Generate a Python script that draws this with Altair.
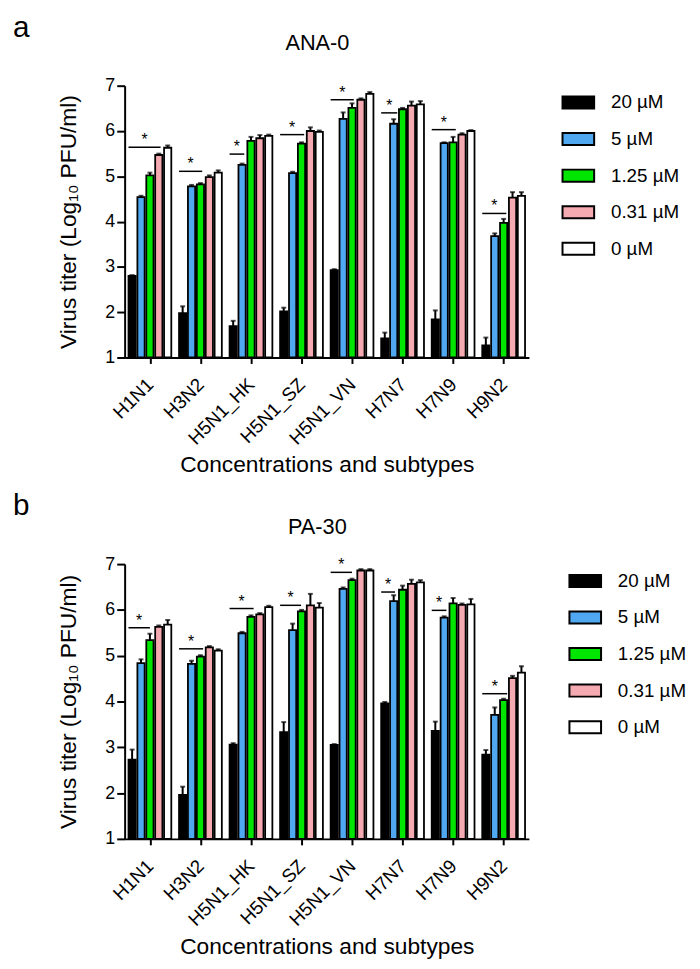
import altair as alt
import pandas as pd

subtypes = ["H1N1", "H3N2", "H5N1_HK", "H5N1_SZ", "H5N1_VN", "H7N7", "H7N9", "H9N2"]
concs = ["20 \u00b5M", "5 \u00b5M", "1.25 \u00b5M", "0.31 \u00b5M", "0 \u00b5M"]
colors = ["#000000", "#4fa8f0", "#00e600", "#f5a9b0", "#ffffff"]

# Panel a: ANA-0 (mean log10 PFU/ml per concentration, per subtype)
ana_vals = [
    [2.80, 1.98, 1.69, 2.02, 2.93, 1.42, 1.84, 1.27],
    [4.54, 4.78, 5.25, 5.07, 6.27, 6.16, 5.73, 3.68],
    [5.02, 4.82, 5.78, 5.72, 6.51, 6.48, 5.75, 3.97],
    [5.47, 4.98, 5.84, 6.00, 6.69, 6.56, 5.92, 4.53],
    [5.63, 5.08, 5.89, 5.98, 6.82, 6.59, 6.00, 4.57],
]
ana_errs = [
    [0.02, 0.15, 0.12, 0.08, 0.02, 0.13, 0.20, 0.17],
    [0.03, 0.03, 0.03, 0.03, 0.14, 0.10, 0.02, 0.06],
    [0.06, 0.03, 0.09, 0.03, 0.10, 0.03, 0.12, 0.09],
    [0.03, 0.04, 0.07, 0.08, 0.03, 0.09, 0.03, 0.12],
    [0.05, 0.05, 0.03, 0.03, 0.04, 0.07, 0.02, 0.08],
]
ana_sig_y = [5.64, 5.11, 5.49, 5.92, 6.69, 6.40, 6.03, 4.18]
ana_sig_end = [3.2, 2.2, 1.25, 2.3, 2.2, 1.4, 2.3, 2.3]

# Panel b: PA-30
pa_vals = [
    [2.73, 1.96, 3.06, 3.33, 3.05, 3.96, 3.36, 2.84],
    [4.84, 4.82, 5.49, 5.56, 6.46, 6.19, 5.83, 3.71],
    [5.34, 4.98, 5.85, 5.97, 6.65, 6.44, 6.14, 4.03],
    [5.63, 5.18, 5.90, 6.10, 6.86, 6.57, 6.11, 4.51],
    [5.68, 5.11, 6.06, 6.05, 6.86, 6.60, 6.12, 4.63],
]
pa_errs = [
    [0.22, 0.18, 0.03, 0.22, 0.02, 0.03, 0.20, 0.10],
    [0.08, 0.07, 0.03, 0.14, 0.03, 0.13, 0.03, 0.16],
    [0.14, 0.03, 0.03, 0.03, 0.03, 0.09, 0.12, 0.03],
    [0.03, 0.03, 0.03, 0.25, 0.03, 0.09, 0.03, 0.05],
    [0.10, 0.03, 0.03, 0.10, 0.03, 0.05, 0.12, 0.14],
]
pa_sig_y = [5.61, 5.15, 6.03, 6.10, 6.82, 6.39, 5.99, 4.17]
pa_sig_end = [2.0, 2.3, 2.3, 1.95, 2.0, 1.15, 1.25, 2.4]

PITCH = 0.176
BW = 0.143
FONT = "Liberation Sans"

label_expr = "[" + ",".join("'%s'" % s for s in subtypes) + "][datum.value]"
xscale = alt.Scale(domain=[-0.5, 7.5], nice=False, zero=False)
yscale = alt.Scale(domain=[1, 7], nice=False, zero=False)
xaxis = alt.Axis(values=list(range(8)), labelExpr=label_expr, labelAngle=-45,
                 labelAlign="right", labelBaseline="middle", labelFontSize=19,
                 labelOverlap=False, labelColor="black", tickColor="black",
                 tickWidth=2, tickSize=6, domainColor="black", domainWidth=2,
                 titleFontSize=23, titleFontWeight="normal", titleColor="black",
                 titlePadding=6, grid=False, labelPadding=18)
yaxis = alt.Axis(values=list(range(1, 8)), labelFontSize=18, labelColor="black",
                 tickColor="black", tickWidth=2, tickSize=8, domainColor="black",
                 domainWidth=2, titleFontSize=23, titleFontWeight="normal",
                 titleColor="black", titlePadding=25, grid=False, format="d",
                 labelPadding=2)
XT = "Concentrations and subtypes"
YT = "Virus titer (Log\u2081\u2080 PFU/ml)"


def X(f):
    return alt.X(f, type="quantitative", scale=xscale, axis=xaxis, title=XT)


def Y(f):
    return alt.Y(f, type="quantitative", scale=yscale, axis=yaxis, title=YT)


def panel(vals, errs, sig_y, sig_end, title, letter, legend_xy, height, title_y, letter_y):
    rows = []
    for j, c in enumerate(concs):
        for i, s in enumerate(subtypes):
            xc = i + (j - 2) * PITCH
            rows.append(dict(conc=c, sub=s, xc=xc, x0=xc - BW / 2, x1=xc + BW / 2,
                             v=vals[j][i], top=vals[j][i] + errs[j][i], base=1))
    df = pd.DataFrame(rows)
    srows = []
    for i, s in enumerate(subtypes):
        x0 = i - 2 * PITCH - BW / 2
        x1 = i + (sig_end[i] - 2) * PITCH
        srows.append(dict(sub=s, x0=x0, x1=x1, xm=(x0 + x1) / 2, y=sig_y[i], star="*"))
    sdf = pd.DataFrame(srows)

    base = alt.Chart(df)
    bars = base.mark_bar(stroke="black", strokeWidth=1.8, opacity=1).encode(
        x=X("x0"), x2="x1", y=Y("v"), y2="base",
        color=alt.Color("conc:N", scale=alt.Scale(domain=concs, range=colors),
                        legend=alt.Legend(title=None, orient="none",
                                          legendX=legend_xy[0], legendY=legend_xy[1],
                                          symbolType="M-1,-0.38H1V0.38H-1Z",
                                          symbolSize=1024, symbolStrokeColor="black",
                                          symbolStrokeWidth=2, symbolOpacity=1,
                                          labelFontSize=19, labelColor="black",
                                          labelOffset=16, rowPadding=9, padding=0)),
    )
    err = base.mark_rule(color="black", strokeWidth=2).encode(x=X("xc"), y=Y("v"), y2="top")
    cap = base.mark_tick(color="black", orient="horizontal", size=5, thickness=2).encode(
        x=X("xc"), y=Y("top"))
    sbase = alt.Chart(sdf)
    sline = sbase.mark_rule(color="black", strokeWidth=1.5).encode(x=X("x0"), x2="x1", y=Y("y"))
    star = sbase.mark_text(fontSize=16, dy=-7, color="black", font=FONT).encode(
        x=X("xm"), y=Y("y"), text="star:N")
    tdf = pd.DataFrame({"t": [title], "l": [letter]})
    ttl = alt.Chart(tdf).mark_text(fontSize=22, align="center", baseline="alphabetic",
                                   color="black", font=FONT).encode(
        text="t:N", x=alt.value(195), y=alt.value(title_y))
    let = alt.Chart(tdf).mark_text(fontSize=30, align="left", baseline="alphabetic",
                                   color="black", font=FONT).encode(
        text="l:N", x=alt.value(-113), y=alt.value(letter_y))
    return alt.layer(bars, err, cap, sline, star, ttl, let).properties(width=409, height=height)


top = panel(ana_vals, ana_errs, ana_sig_y, ana_sig_end, "ANA-0", "a", (442, 0), 275, -36, -49)
bot = panel(pa_vals, pa_errs, pa_sig_y, pa_sig_end, "PA-30", "b", (449, 0), 278, -30, -50)

chart = alt.vconcat(top, bot, spacing=14).resolve_scale(color="independent").properties(
    padding={"left": 5, "top": 0, "right": 5, "bottom": 2}
).configure(font=FONT).configure_view(stroke=None)

chart.save("out.html", embed_options={"renderer": "svg", "actions": False})
